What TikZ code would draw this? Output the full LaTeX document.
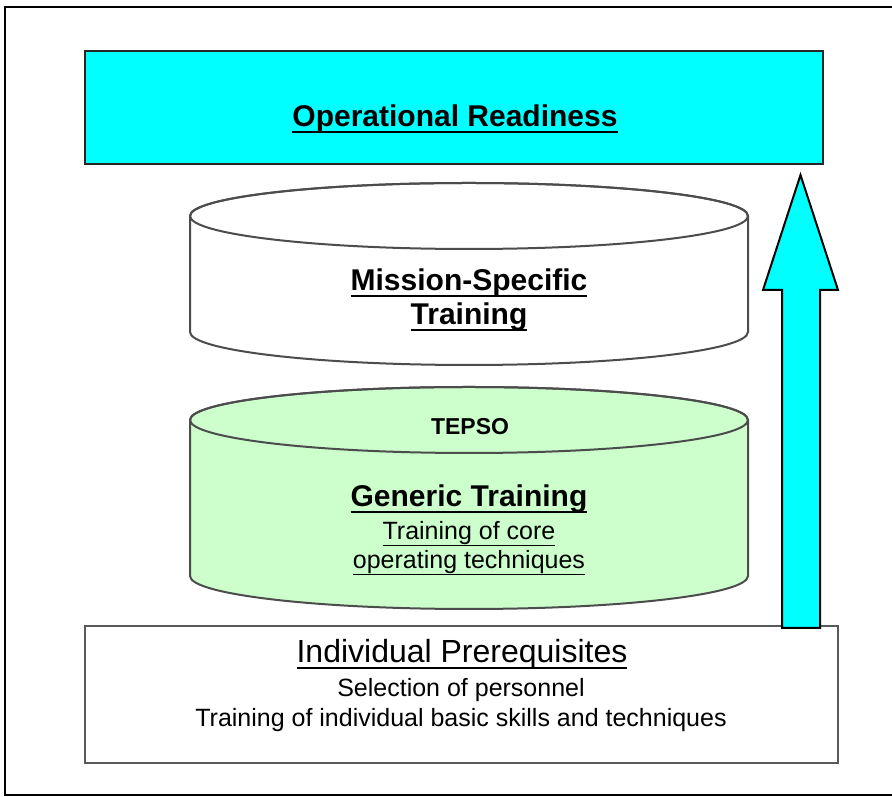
\documentclass[tikz,border=0pt]{standalone}
\usepackage{fontspec}
\setmainfont{Liberation Sans}
\definecolor{aqua}{RGB}{0,255,255}
\definecolor{mint}{RGB}{204,255,204}
\newsavebox\ulbox
\newcommand\uln[2][2.4pt]{\sbox\ulbox{#2}\rlap{\usebox\ulbox}\rule[-6pt]{\wd\ulbox}{#1}}

\tikzset{
  heading/.style={font=\fontsize{30}{34}\selectfont\bfseries, anchor=base, inner sep=0pt},
  plain/.style={font=\fontsize{25}{30}\selectfont, anchor=base, inner sep=0pt},
  block/.style={draw=black!85, line width=2pt, inner sep=0pt},
  drum/.style={draw=black!70, line width=2pt},
}

\begin{document}
\begin{tikzpicture}[x=1pt,y=1pt]
      \useasboundingbox (0,0) rectangle (892,797);
      \draw[line width=2.5pt] (892,790) -- (5,790) -- (5,2) -- (892,2);

      \node[block, fill=aqua, minimum width=738pt, minimum height=113pt] (ready) at (454,689.5) {};
      \node[heading] (readytext) at (455,670) {\uln{Operational Readiness}};

      \filldraw[drum, fill=white] (190,581) -- (190,465) arc[start angle=180, end angle=360, x radius=279pt, y radius=33pt]
        -- (748,581) arc[start angle=0, end angle=180, x radius=279pt, y radius=33pt] -- cycle;
      \draw[drum] (469,581) ellipse[x radius=279pt, y radius=33pt];
      \node[heading] (mission) at (469,506) {\uln{Mission-Specific}};
      \node[heading] (mission2) at (469,472) {\uln{Training}};

      \filldraw[drum, fill=mint] (190,377) -- (190,221) arc[start angle=180, end angle=360, x radius=279pt, y radius=33pt]
        -- (748,377) arc[start angle=0, end angle=180, x radius=279pt, y radius=33pt] -- cycle;
      \draw[drum] (469,377) ellipse[x radius=279pt, y radius=33pt];
      \node[heading, font=\fontsize{23}{28}\selectfont\bfseries] (tepso) at (470,362) {TEPSO};
      \node[heading] (generic) at (469,290) {\uln{Generic Training}};
      \node[plain] (core) at (469,257) {\uln[1.4pt]{Training of core}};
      \node[plain] (core2) at (469,228) {\uln[1.4pt]{operating techniques}};

      \node[block, draw=black!65, fill=white, minimum width=753pt, minimum height=137pt] (base) at (461.5,102.5) {};
      \node[plain, font=\fontsize{32}{36}\selectfont] (prereq) at (462,134) {\uln{Individual Prerequisites}};
      \node[plain] (select) at (461,100) {Selection of personnel};
      \node[plain] (skills) at (461,70) {Training of individual basic skills and techniques};

      \filldraw[line width=2pt, fill=aqua] (782,169) -- (782,507) -- (763,507) -- (800.5,622)
        -- (838,507) -- (820,507) -- (820,169) -- cycle;
    \end{tikzpicture}
\end{document}
